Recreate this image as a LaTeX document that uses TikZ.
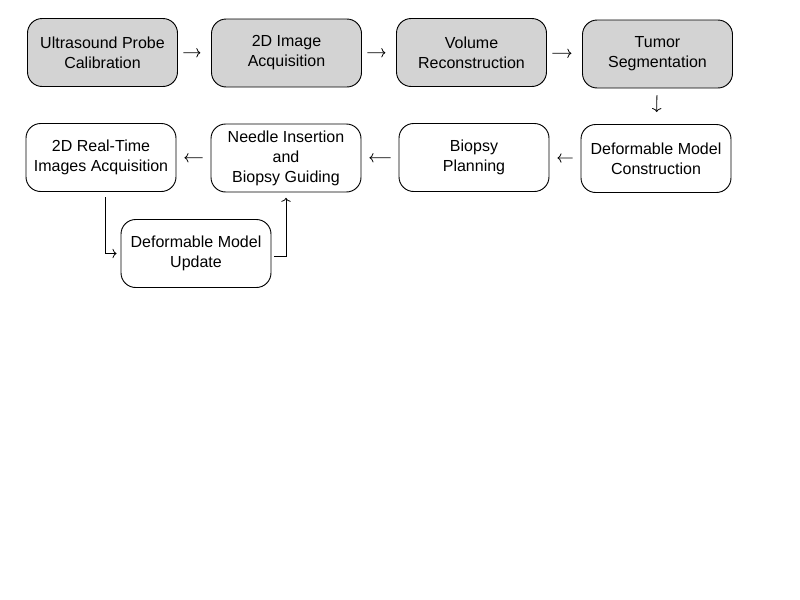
\documentclass[tikz,border=0pt]{standalone}
\usepackage{fontspec}
\setmainfont{Liberation Sans}
\usepackage{tikz}
\usetikzlibrary{calc}
\usetikzlibrary{arrows.meta}
\definecolor{boxgray}{RGB}{211,211,211}
\tikzset{
  block/.style={draw, line width=0.7pt, rounded corners=11pt, align=center,
    minimum width=112.5pt, minimum height=51pt, inner sep=0pt,
    font=\fontsize{12}{15}\selectfont},
  flow/.style={line width=0.6pt, -{To[length=3pt,width=7pt]}}
}
\newcommand{\blockg}[4]{\node[block, fill=boxgray] (#1) at ( #2 , #3 ) {#4};}
\newcommand{\blockw}[4]{\node[block] (#1) at ( #2 , #3 ) {#4};}

\begin{document}
\begin{tikzpicture}[x=0.75pt, y=-0.75pt]
        \useasboundingbox ( 0 , 0 ) rectangle ( 800 , 600 );
        % row 1
        \blockg{probe}{102.5}{52.5}{Ultrasound Probe\\Calibration}
        \blockg{acq}{286.5}{53}{2D Image\\Acquisition}
        \blockg{volume}{471.5}{52.5}{Volume\\Reconstruction}
        \blockg{tumor}{657.5}{54}{Tumor\\Segmentation}
        % row 2
        \blockw{realtime}{101}{157.5}{2D Real-Time\\Images Acquisition}
        \blockw{needle}{286}{158}{Needle Insertion\\and\\Biopsy Guiding}
        \blockw{planning}{474}{157.5}{Biopsy\\Planning}
        \blockw{construct}{656}{158.5}{Deformable Model\\Construction}
        % row 3
        \blockw{update}{196}{253.5}{Deformable Model\\Update}
        % arrows
        \draw[flow, shorten <=4pt, shorten >=8pt] (probe) -- (acq);
        \draw[flow, shorten <=4pt, shorten >=8pt] (acq) -- (volume);
        \draw[flow, shorten <=4pt, shorten >=8pt] (volume) -- (tumor);
        \draw[flow, shorten <=5pt, shorten >=9pt] (tumor) -- (construct);
        \draw[flow, shorten <=6pt, shorten >=6pt] (construct) -- (planning);
        \draw[flow, shorten <=6pt, shorten >=6pt] (planning) -- (needle);
        \draw[flow, shorten <=6pt, shorten >=6pt] (needle) -- (realtime);
        \draw[flow, shorten <=4pt, shorten >=3pt] ([xshift=3pt]realtime.south) |- (update.west);
        \draw[flow, shorten <=2pt, shorten >=4pt] ([yshift=-2pt]update.east) -| (needle.south);
\end{tikzpicture}
\end{document}
